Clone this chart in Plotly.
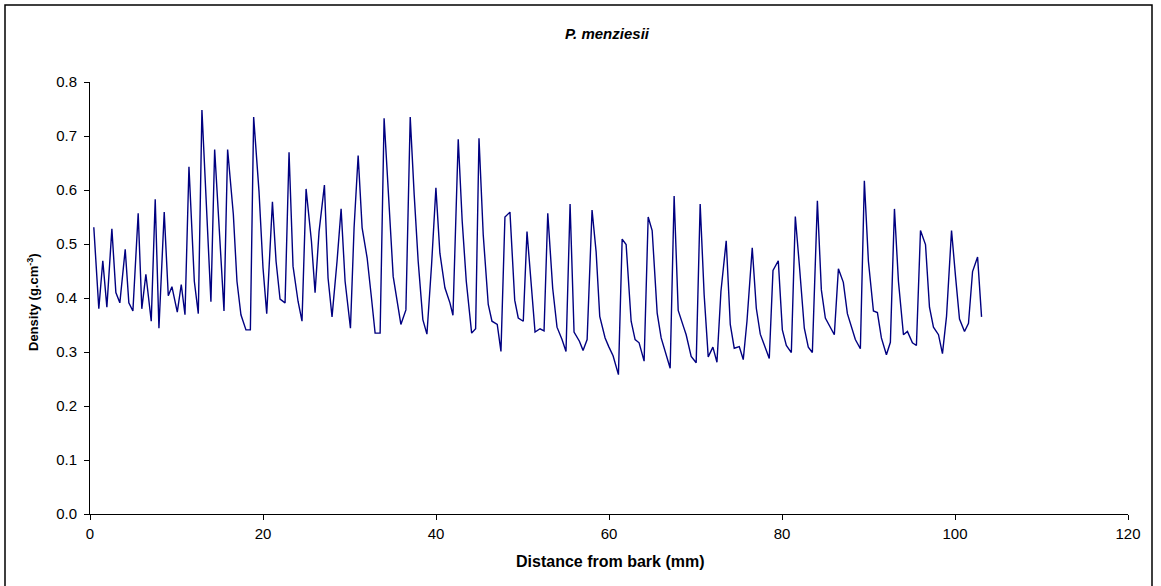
import plotly.graph_objects as go

distance_mm = [
    0.44, 1.02, 1.48, 1.95, 2.53, 2.99, 3.45, 4.07, 4.49, 4.96, 5.57, 5.99, 6.46, 7.08, 7.54, 7.97,
    8.58, 9.05, 9.47, 10.09, 10.55, 10.98, 11.44, 12.06, 12.52, 12.94, 13.98, 14.41, 15.49, 15.91,
    16.57, 16.99, 17.45, 18.03, 18.54, 18.92, 19.54, 20.0, 20.43, 21.09, 21.51, 21.97, 22.55, 23.01,
    23.47, 24.05, 24.51, 24.98, 25.6, 26.02, 26.48, 27.1, 27.52, 27.98, 28.56, 29.03, 29.49, 30.11,
    30.53, 31.0, 31.46, 32.04, 32.5, 32.96, 33.54, 34.0, 35.05, 35.5, 35.94, 36.52, 37.02, 37.48,
    37.94, 38.48, 38.95, 39.49, 39.99, 40.45, 41.03, 41.61, 41.96, 42.57, 43.03, 43.5, 44.12, 44.58,
    44.97, 45.46, 46.04, 46.47, 47.08, 47.51, 47.97, 48.55, 49.1, 49.51, 50.09, 50.52, 50.98, 51.45,
    52.03, 52.49, 52.92, 53.49, 53.99, 54.57, 55.03, 55.5, 55.96, 56.58, 57.0, 57.47, 58.04, 58.51,
    58.93, 59.55, 59.97, 60.47, 61.09, 61.52, 61.98, 62.56, 63.02, 63.48, 64.06, 64.53, 64.99, 65.57,
    66.03, 66.49, 67.07, 67.53, 68.0, 68.61, 68.92, 69.5, 70.08, 70.54, 71.0, 71.47, 72.01, 72.48,
    72.94, 73.55, 74.02, 74.48, 75.06, 75.52, 75.95, 76.56, 77.03, 77.49, 78.07, 78.53, 78.96, 79.57,
    80.04, 80.5, 81.08, 81.54, 82.0, 82.58, 83.04, 83.51, 84.09, 84.55, 85.01, 85.59, 86.05, 86.52,
    87.09, 87.56, 88.02, 88.48, 89.06, 89.52, 89.99, 90.57, 91.03, 91.49, 92.07, 92.53, 93.0, 93.46,
    94.04, 94.5, 95.08, 95.54, 96.01, 96.59, 97.05, 97.51, 98.09, 98.55, 99.02, 99.6, 100.06, 100.52,
    101.1, 101.56, 102.03, 102.61, 103.07,
]

density = [
    0.531, 0.380, 0.469, 0.383, 0.528, 0.410, 0.391, 0.490, 0.391, 0.376, 0.557, 0.380, 0.444, 0.357, 0.583, 0.344,
    0.559, 0.404, 0.421, 0.374, 0.425, 0.369, 0.643, 0.431, 0.371, 0.748, 0.393, 0.675, 0.376, 0.675,
    0.555, 0.431, 0.369, 0.341, 0.341, 0.735, 0.597, 0.456, 0.371, 0.578, 0.468, 0.398, 0.391, 0.670,
    0.459, 0.394, 0.357, 0.602, 0.505, 0.410, 0.523, 0.609, 0.437, 0.365, 0.468, 0.565, 0.431, 0.344,
    0.530, 0.664, 0.530, 0.474, 0.406, 0.335, 0.335, 0.733, 0.440, 0.395, 0.351, 0.378, 0.735, 0.591,
    0.468, 0.360, 0.333, 0.462, 0.604, 0.483, 0.419, 0.391, 0.368, 0.694, 0.542, 0.431, 0.335, 0.343,
    0.696, 0.517, 0.388, 0.357, 0.351, 0.301, 0.550, 0.559, 0.396, 0.363, 0.357, 0.523, 0.431, 0.337,
    0.343, 0.339, 0.557, 0.418, 0.346, 0.323, 0.301, 0.574, 0.337, 0.320, 0.303, 0.323, 0.563, 0.486,
    0.366, 0.326, 0.310, 0.293, 0.258, 0.509, 0.499, 0.357, 0.323, 0.317, 0.283, 0.550, 0.525, 0.372,
    0.326, 0.301, 0.270, 0.589, 0.377, 0.347, 0.332, 0.292, 0.280, 0.574, 0.406, 0.291, 0.309, 0.281,
    0.412, 0.506, 0.351, 0.307, 0.310, 0.286, 0.357, 0.493, 0.381, 0.333, 0.307, 0.288, 0.451, 0.469,
    0.341, 0.312, 0.299, 0.551, 0.462, 0.344, 0.309, 0.299, 0.580, 0.415, 0.363, 0.347, 0.332, 0.454,
    0.429, 0.371, 0.347, 0.323, 0.306, 0.617, 0.468, 0.376, 0.373, 0.326, 0.295, 0.318, 0.565, 0.431,
    0.332, 0.338, 0.317, 0.312, 0.525, 0.499, 0.383, 0.346, 0.332, 0.297, 0.366, 0.525, 0.440, 0.361,
    0.338, 0.353, 0.449, 0.476, 0.365,
]

x_ticks = [0, 20, 40, 60, 80, 100, 120]
y_ticks = [0.0, 0.1, 0.2, 0.3, 0.4, 0.5, 0.6, 0.7, 0.8]

FONT = "Liberation Sans, Arial, sans-serif"

fig = go.Figure()
fig.add_trace(go.Scatter(
    x=distance_mm, y=density, mode="lines",
    line=dict(color="#000080", width=1.4),
    showlegend=False, hoverinfo="x+y",
))

W, H = 1161, 586
L, R, T, B = 90, 33, 82, 72
pw, ph = W - L - R, H - T - B

def px_to_paper_x(px):
    return (px - L) / pw

def px_to_paper_y(py):
    return (H - B - py) / ph

fig.update_layout(
    width=W, height=H,
    margin=dict(l=L, r=R, t=T, b=B, pad=0),
    paper_bgcolor="white", plot_bgcolor="white",
    font=dict(family=FONT, size=15, color="black"),
    title=dict(text="<b><i>P. menziesii</i></b>", x=px_to_paper_x(607), xref="paper",
               xanchor="center", y=1 - 34 / H, yanchor="middle",
               font=dict(size=15)),
    xaxis=dict(
        range=[0, 120], tickvals=x_ticks, ticktext=[str(v) for v in x_ticks],
        showline=True, linecolor="black", linewidth=1, ticks="outside", ticklen=5,
        tickcolor="black", showgrid=False, zeroline=False, ticklabelstandoff=1,
        tickfont=dict(size=15),
    ),
    yaxis=dict(
        range=[0, 0.8], tickvals=y_ticks, ticktext=[f"{v:.1f}" for v in y_ticks],
        showline=True, linecolor="black", linewidth=1, ticks="outside", ticklen=5,
        tickcolor="black", showgrid=False, zeroline=False, ticklabelstandoff=4,
        tickfont=dict(size=15),
    ),
    annotations=[
        dict(text="<b>Distance from bark (mm)</b>", xref="paper", yref="paper",
             x=px_to_paper_x(610), y=px_to_paper_y(561), xanchor="center", yanchor="middle",
             showarrow=False, font=dict(size=16)),
        dict(text="<b>Density (g.cm<sup>-3</sup>)</b>", xref="paper", yref="paper",
             x=px_to_paper_x(33), y=px_to_paper_y(302), xanchor="center", yanchor="middle",
             textangle=-90, showarrow=False, font=dict(size=13)),
    ],
    shapes=[
        dict(type="rect", xref="paper", yref="paper",
             x0=px_to_paper_x(5), x1=px_to_paper_x(1152),
             y0=px_to_paper_y(590), y1=px_to_paper_y(5),
             line=dict(color="black", width=1.5), fillcolor="rgba(0,0,0,0)", layer="below"),
    ],
)

fig.write_html("out.html", config={"displayModeBar": False},
               post_script="document.body.style.margin='0';")
